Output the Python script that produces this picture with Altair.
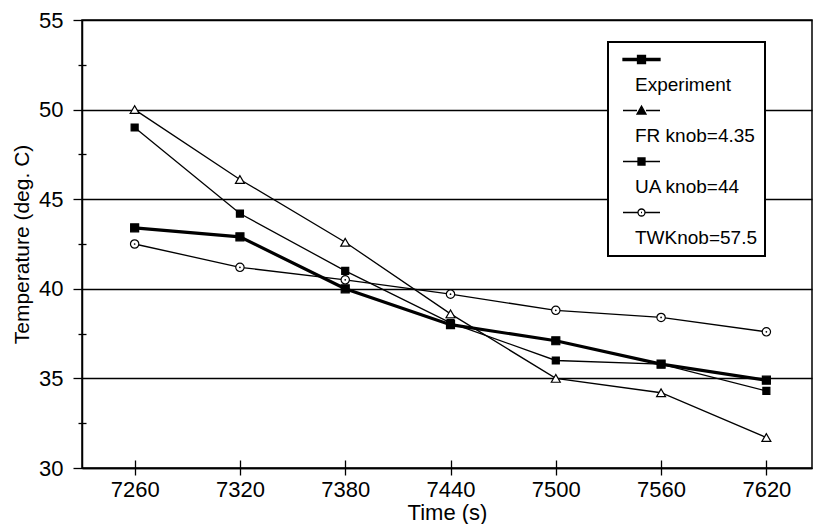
import altair as alt
import pandas as pd

# ---- data ----
times = [7260, 7320, 7380, 7440, 7500, 7560, 7620]
series = ["Experiment", "FR knob=4.35", "UA knob=44", "TWKnob=57.5"]
experiment = [43.4, 42.9, 40.0, 38.0, 37.1, 35.8, 34.9]
fr_knob = [50.0, 46.1, 42.6, 38.6, 35.0, 34.2, 31.7]
ua_knob = [49.0, 44.2, 41.0, 38.1, 36.0, 35.8, 34.3]
tw_knob = [42.5, 41.2, 40.5, 39.7, 38.8, 38.4, 37.6]
y_ticks = [30, 35, 40, 45, 50, 55]
y_minor = [32.5, 37.5, 42.5, 47.5, 52.5]

rows = []
for name, vals in zip(series, [experiment, fr_knob, ua_knob, tw_knob]):
    for t, v in zip(times, vals):
        rows.append({"time": t, "temp": v, "series": name})
df = pd.DataFrame(rows)

FONT = "Liberation Sans"
x_scale = alt.Scale(domain=[7230, 7646], nice=False, zero=False)
y_scale = alt.Scale(domain=[30, 55], nice=False, zero=False)

line_widths = [3.2, 1.3, 1.3, 1.3]
shapes = ["square", "triangle-up", "square", "circle"]
fills = ["black", "white", "black", "white"]
sizes = [64, 80, 49, 70]

lines = alt.Chart(df).mark_line(color="black").encode(
    x=alt.X("time:Q", scale=x_scale,
            axis=alt.Axis(values=times, format="d", title="Time (s)", grid=False,
                          tickSize=7, labelPadding=4, titlePadding=2,
                          labelFlush=False, titleFontSize=22)),
    y=alt.Y("temp:Q", scale=y_scale,
            axis=alt.Axis(values=y_ticks, title="Temperature (deg. C)", grid=True,
                          tickSize=9, labelPadding=10, titlePadding=6,
                          labelFlush=False, titleFontSize=21)),
    strokeWidth=alt.StrokeWidth("series:N",
                                scale=alt.Scale(type="ordinal", domain=series, range=line_widths),
                                legend=None),
)

points = alt.Chart(df).mark_point(stroke="black", strokeWidth=1.2, opacity=1).encode(
    x=alt.X("time:Q", scale=x_scale,
            axis=alt.Axis(orient="bottom", values=times, labels=False, domain=False,
                          grid=False, tickSize=8, offset=-8, title=None)),
    y=alt.Y("temp:Q", scale=y_scale,
            axis=alt.Axis(orient="left", values=y_minor, labels=False, domain=False,
                          grid=False, tickSize=8, offset=-4, title=None)),
    shape=alt.Shape("series:N", scale=alt.Scale(domain=series, range=shapes), legend=None),
    fill=alt.Fill("series:N", scale=alt.Scale(domain=series, range=fills), legend=None),
    size=alt.Size("series:N", scale=alt.Scale(type="ordinal", domain=series, range=sizes), legend=None),
)

dots = alt.Chart(df).transform_filter(alt.datum.series == series[3]).mark_circle(
    color="black", size=3, opacity=1
).encode(
    x=alt.X("time:Q", scale=x_scale, axis=None),
    y=alt.Y("temp:Q", scale=y_scale, axis=None),
)

# ---- legend: a symbol row above each label row ----
sym_paths = [
    "M-2.5,-1.2H34.5V1.2H-2.5Z M12,-4H20V4H12Z",
    "M-2.5,0H11.5M20.5,0H34.5 M16,-4.5L20.5,3.5H11.5Z",
    "M-2.5,0H12.5M19.5,0H34.5 M12.5,-3.5H19.5V3.5H12.5Z",
    "M-2.5,0H12.5M19.5,0H34.5 M19.5,0A3.5,3.5 0 1 1 12.5,0A3.5,3.5 0 1 1 19.5,0Z M15.5,0H16.5",
]
sym_fills = ["black", "black", "black", "white"]
legend_keys, legend_shapes, legend_fills, legend_strokes = [], [], [], []
for name, p, f in zip(series, sym_paths, sym_fills):
    legend_keys += ["~" + name, name]
    legend_shapes += [p, "M0,0"]
    legend_fills += [f, "white"]
    legend_strokes += ["black", "white"]
legend_df = pd.DataFrame({"key": legend_keys})

leg = alt.Legend(
    orient="none", legendX=526, legendY=22, title=None, padding=8,
    fillColor="white", strokeColor="black",
    labelExpr="indexof(datum.label, '~') == 0 ? '' : datum.label",
    labelFont=FONT, labelFontSize=19, labelColor="black", labelOffset=0,
    labelLimit=300, rowPadding=5.5, symbolSize=4, symbolStrokeWidth=1.3,
)

legend_layer = alt.Chart(legend_df).transform_filter("false").mark_point(
    size=4, opacity=1, strokeWidth=1.3
).encode(
    shape=alt.Shape("key:N", scale=alt.Scale(domain=legend_keys, range=legend_shapes), legend=leg),
    fill=alt.Fill("key:N", scale=alt.Scale(domain=legend_keys, range=legend_fills), legend=leg),
    stroke=alt.Stroke("key:N", scale=alt.Scale(domain=legend_keys, range=legend_strokes), legend=leg),
)

chart = alt.layer(lines, points, dots, legend_layer).resolve_scale(
    shape="independent", fill="independent", stroke="independent"
).resolve_axis(
    x="independent", y="independent"
).properties(
    width=730, height=448,
    autosize=alt.AutoSizeParams(type="none"),
    padding={"left": 74, "top": 12, "right": 2, "bottom": 56},
).configure_view(
    stroke="black", strokeWidth=1.5
).configure_axis(
    labelFont=FONT, labelFontSize=22, labelColor="black",
    titleFont=FONT, titleColor="black", titleFontWeight="normal",
    domainColor="black", domainWidth=1.5,
    tickColor="black", tickWidth=1.3,
    gridColor="black", gridWidth=1.3, gridOpacity=1,
).configure_legend(strokeWidth=2)

chart.save("out.html", embed_options={"renderer": "svg", "actions": False})
